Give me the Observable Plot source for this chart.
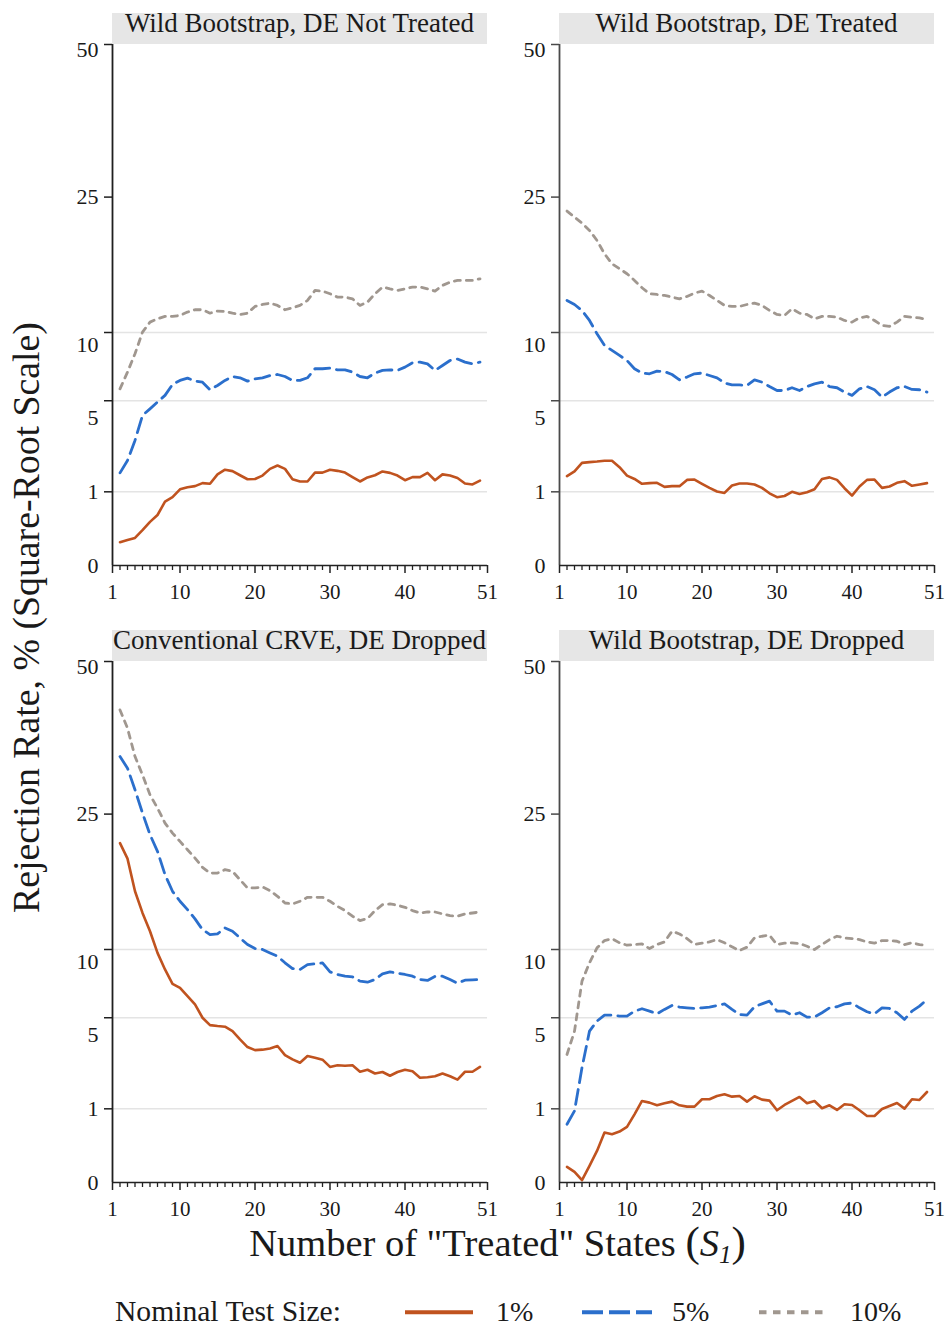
<!DOCTYPE html>
<html>
<head>
<meta charset="utf-8">
<script src="https://cdn.jsdelivr.net/npm/d3@7"></script>
<script src="https://cdn.jsdelivr.net/npm/@observablehq/plot@0.6"></script>
<style>
  body { margin: 0; background: #fff; }
  #chart { position: relative; width: 945px; height: 1326px; background: #fff; font-family: "Liberation Serif", serif; }
  #chart > svg { position: absolute; }
</style>
</head>
<body>
<div id="chart"></div>
<script>
// ---------- data ----------
const states = [2,3,4,5,6,7,8,9,10,11,12,13,14,15,16,17,18,19,20,21,22,23,24,25,26,27,28,29,30,31,32,33,34,35,36,37,38,39,40,41,42,43,44,45,46,47,48,49,50];

const panelTitles = [
  "Wild Bootstrap, DE Not Treated",
  "Wild Bootstrap, DE Treated",
  "Conventional CRVE, DE Dropped",
  "Wild Bootstrap, DE Dropped"
];

const sizeLabels = ["1%", "5%", "10%"];

// Panel 1: Wild Bootstrap, DE Not Treated
const p1_1  = [0.10,0.12,0.14,0.23,0.35,0.47,0.75,0.86,1.07,1.13,1.16,1.25,1.23,1.53,1.69,1.64,1.50,1.37,1.38,1.49,1.72,1.84,1.72,1.37,1.30,1.30,1.59,1.59,1.69,1.65,1.59,1.44,1.30,1.43,1.50,1.63,1.58,1.49,1.34,1.44,1.44,1.58,1.34,1.53,1.49,1.41,1.24,1.21,1.33];
const p1_5  = [1.58,2.03,2.88,4.15,4.52,4.92,5.33,6.04,6.31,6.47,6.26,6.19,5.69,5.97,6.31,6.58,6.49,6.26,6.42,6.49,6.65,6.72,6.58,6.31,6.31,6.49,7.13,7.13,7.18,7.05,7.05,6.89,6.58,6.49,6.82,7.01,7.05,7.01,7.25,7.57,7.62,7.49,7.01,7.37,7.74,7.85,7.62,7.49,7.62];
const p1_10 = [5.75,6.89,8.26,10.03,10.91,11.21,11.43,11.43,11.52,11.83,12.05,12.05,11.73,11.92,11.89,11.73,11.61,11.73,12.36,12.55,12.68,12.46,12.05,12.23,12.46,12.94,13.94,13.87,13.60,13.27,13.27,13.10,12.46,12.78,13.60,14.28,14.10,13.94,14.10,14.28,14.28,14.10,13.87,14.45,14.79,14.97,14.97,14.97,15.14];

// Panel 2: Wild Bootstrap, DE Treated
const p2_1  = [1.47,1.63,1.94,1.97,1.99,2.02,2.02,1.78,1.49,1.38,1.23,1.25,1.26,1.14,1.16,1.16,1.35,1.36,1.23,1.11,1.01,0.97,1.18,1.24,1.24,1.21,1.11,0.96,0.86,0.89,1.00,0.94,0.99,1.07,1.38,1.43,1.35,1.10,0.90,1.15,1.35,1.36,1.11,1.15,1.26,1.31,1.17,1.21,1.25];
const p2_5  = [12.94,12.55,11.98,11.06,9.89,8.92,8.52,8.13,7.74,7.13,6.82,6.77,6.96,6.93,6.72,6.35,6.54,6.77,6.82,6.65,6.49,6.13,6.01,6.01,5.97,6.35,6.19,5.90,5.64,5.64,5.82,5.64,5.90,6.08,6.19,5.90,5.82,5.54,5.33,5.75,5.90,5.69,5.22,5.54,5.82,5.90,5.71,5.69,5.54];
const p2_10 = [23.14,22.36,21.60,20.68,19.46,17.90,16.77,16.22,15.68,14.97,14.21,13.60,13.53,13.43,13.27,13.10,13.33,13.67,13.87,13.43,12.94,12.46,12.36,12.36,12.55,12.68,12.46,11.98,11.61,11.52,12.14,11.73,11.61,11.21,11.43,11.43,11.36,11.06,10.91,11.30,11.43,11.06,10.61,10.53,10.91,11.43,11.36,11.30,11.12];

// Panel 3: Conventional CRVE, DE Dropped
const p3_1  = [21.22,19.32,15.62,13.39,11.63,9.71,8.36,7.27,6.98,6.40,5.84,5.00,4.56,4.51,4.47,4.22,3.77,3.38,3.23,3.25,3.31,3.43,2.99,2.79,2.64,2.95,2.87,2.78,2.46,2.53,2.51,2.53,2.26,2.34,2.19,2.25,2.10,2.25,2.34,2.28,2.02,2.04,2.08,2.19,2.08,1.95,2.26,2.26,2.46];
const p3_5  = [33.42,31.62,28.41,25.14,22.28,20.20,17.46,15.62,14.57,13.72,12.80,11.78,11.32,11.38,11.94,11.63,11.02,10.43,10.08,10.00,9.71,9.43,8.89,8.43,8.36,8.75,8.81,8.89,8.17,7.97,7.84,7.79,7.47,7.39,7.59,8.02,8.17,8.07,7.97,7.84,7.59,7.52,7.82,7.84,7.59,7.32,7.54,7.57,7.59];
const p3_10 = [41.14,38.01,33.42,30.61,27.69,25.82,23.80,22.49,21.43,20.40,19.39,18.30,17.64,17.64,18.03,17.84,16.89,15.98,15.98,16.09,15.69,15.09,14.39,14.29,14.57,14.98,14.98,14.98,14.57,14.05,13.62,13.06,12.64,12.83,13.62,14.22,14.29,14.16,13.95,13.62,13.38,13.48,13.48,13.29,13.12,13.06,13.29,13.38,13.48];

// Panel 4: Wild Bootstrap, DE Dropped
const p4_1  = [0.045,0.021,0.001,0.051,0.184,0.459,0.429,0.478,0.569,0.857,1.225,1.175,1.098,1.156,1.205,1.098,1.061,1.061,1.275,1.275,1.379,1.433,1.358,1.379,1.205,1.369,1.265,1.235,0.961,1.108,1.225,1.348,1.156,1.225,1.015,1.098,0.970,1.127,1.108,0.961,0.816,0.816,0.996,1.079,1.165,1.005,1.275,1.255,1.509];
const p4_5  = [0.625,0.943,2.43,4.22,4.80,5.16,5.16,5.10,5.10,5.41,5.56,5.41,5.24,5.52,5.77,5.67,5.62,5.58,5.62,5.67,5.77,5.88,5.52,5.20,5.16,5.69,5.88,6.06,5.41,5.41,5.16,5.31,5.04,5.04,5.31,5.62,5.69,5.88,5.93,5.62,5.37,5.24,5.62,5.58,5.31,4.90,5.41,5.73,6.17];
const p4_10 = [3.02,4.22,7.47,8.89,10.14,10.78,10.96,10.58,10.37,10.43,10.49,10.08,10.43,10.66,11.63,11.38,10.96,10.43,10.55,10.66,10.87,10.58,10.23,9.91,10.20,11.02,11.17,11.26,10.43,10.55,10.58,10.52,10.28,10.00,10.43,10.87,11.17,11.02,10.96,10.87,10.66,10.55,10.78,10.78,10.72,10.43,10.58,10.43,10.34];

// Axis ticks and labels
const xTickValues = [1, 10, 20, 30, 40, 51];
const xMinorTicks = [2,3,4,5,6,7,8,9,11,12,13,14,15,16,17,18,19,21,22,23,24,25,26,27,28,29,31,32,33,34,35,36,37,38,39,41,42,43,44,45,46,47,48,49,50];
const yTickValues = [1, 5, 10, 25, 50];
const yGridValues = [1, 5, 10];
const yLabelAt = [0, 1, 4, 9, 25, 49];
const yLabelText = ["0", "1", "5", "10", "25", "50"];

// ---------- styling ----------
const sizeColors = ["#c0531f", "#2b6fcc", "#a0978f"];
const lineStyles = [
  { strokeWidth: 2.6 },
  { strokeWidth: 2.8, strokeDasharray: "15,7" },
  { strokeWidth: 2.8, strokeDasharray: "6,6" }
];
const textColor = "#1a1a1a";
const serif = "'Liberation Serif', 'DejaVu Serif', serif";
const seriesByPanel = [[p1_1, p1_5, p1_10], [p2_1, p2_5, p2_10], [p3_1, p3_5, p3_10], [p4_1, p4_5, p4_10]];
const panelPos = [{ left: 60, top: 0 }, { left: 507, top: 0 }, { left: 60, top: 616.5 }, { left: 507, top: 616.5 }];
const axisColors = ["#1f1f1f", "#4a4a4a", "#1f1f1f", "#4a4a4a"];

function strip(title) {
  return (index, scales, values, dims) => {
    const g = d3.create("svg:g");
    const x0 = dims.marginLeft, x1 = dims.width - dims.marginRight;
    g.append("rect").attr("x", x0).attr("y", dims.marginTop - 31).attr("width", x1 - x0).attr("height", 31).attr("fill", "#e6e6e6");
    g.append("text").attr("x", (x0 + x1) / 2).attr("y", dims.marginTop - 12)
      .attr("text-anchor", "middle").attr("font-size", 27).attr("fill", textColor)
      .attr("font-family", serif).text(title);
    return g.node();
  };
}

function makePanel(i) {
  const rows = [];
  seriesByPanel[i].forEach((vals, s) => vals.forEach((v, j) => rows.push({ x: states[j], v, size: sizeLabels[s] })));
  const ac = axisColors[i];
  return Plot.plot({
    width: 442, height: 610,
    marginLeft: 52, marginRight: 15, marginTop: 44, marginBottom: 45,
    style: { fontFamily: serif, fontSize: "21px", color: textColor, background: "transparent", overflow: "visible" },
    x: { domain: [1, 51] },
    y: { type: "sqrt", domain: [0, 50] },
    marks: [
      Plot.gridY({ ticks: yGridValues, stroke: "#e4e4e4", strokeOpacity: 1, strokeWidth: 1.6 }),
      ...sizeLabels.map((s, k) => Plot.line(rows.filter(r => r.size === s), { x: "x", y: "v", stroke: sizeColors[k], ...lineStyles[k] })),
      Plot.axisX({ ticks: xMinorTicks, tickSize: 5, tickFormat: () => "", label: null, stroke: "#222", strokeWidth: 1.3 }),
      Plot.axisX({ ticks: xTickValues, tickSize: 8, tickPadding: 10.5, fontSize: 21, label: null, stroke: "#222", strokeWidth: 1.5, fill: textColor }),
      Plot.axisY({ ticks: yTickValues, tickSize: 8, tickFormat: () => "", label: null, stroke: ac, strokeWidth: 1.5 }),
      Plot.axisY({ ticks: yLabelAt, tickSize: 0, tickPadding: 14, fontSize: 22, label: null, fill: textColor,
                   tickFormat: d => yLabelText[yLabelAt.indexOf(d)] }),
      Plot.ruleX([1], { stroke: ac, strokeWidth: 1.8 }),
      Plot.ruleY([0], { stroke: "#222", strokeWidth: 1.6 }),
      strip(panelTitles[i])
    ]
  });
}

const chart = document.getElementById("chart");
for (let i = 0; i < 4; i++) {
  const svg = makePanel(i);
  svg.style.left = panelPos[i].left + "px";
  svg.style.top = panelPos[i].top + "px";
  chart.appendChild(svg);
}

// ---------- overlay: axis titles and legend ----------
const ov = d3.create("svg").attr("width", 945).attr("height", 1326)
  .style("left", "0px").style("top", "0px").style("pointer-events", "none")
  .attr("font-family", serif).attr("fill", textColor);

ov.append("text").attr("transform", "translate(39,617.5) rotate(-90)").attr("text-anchor", "middle")
  .attr("font-size", 37.8).text("Rejection Rate, % (Square-Root Scale)");

const xl = ov.append("text").attr("x", 497.5).attr("y", 1256).attr("text-anchor", "middle").attr("font-size", 38.5);
xl.append("tspan").text('Number of "Treated" States ');
xl.append("tspan").attr("font-size", 43).text("(");
xl.append("tspan").attr("font-style", "italic").text("S");
xl.append("tspan").attr("font-style", "italic").attr("font-size", 25).attr("dy", 7).text("1");
xl.append("tspan").attr("font-size", 43).attr("dy", -7).text(")");

const legendY = 1312.3;
ov.append("text").attr("x", 115).attr("y", 1321).attr("font-size", 29.6).text("Nominal Test Size:");
const legendKeys = [
  { x1: 405, x2: 473, tx: 496, dash: null },
  { x1: 582, x2: 652, tx: 672, dash: "21,6" },
  { x1: 759, x2: 828, tx: 850, dash: "7.5,6.5" }
];
legendKeys.forEach((k, i) => {
  ov.append("line").attr("x1", k.x1).attr("x2", k.x2).attr("y1", legendY).attr("y2", legendY)
    .attr("stroke", sizeColors[i]).attr("stroke-width", 4).attr("stroke-dasharray", k.dash);
  ov.append("text").attr("x", k.tx).attr("y", 1321).attr("font-size", 28).text(sizeLabels[i]);
});
chart.appendChild(ov.node());
</script>
</body>
</html>
